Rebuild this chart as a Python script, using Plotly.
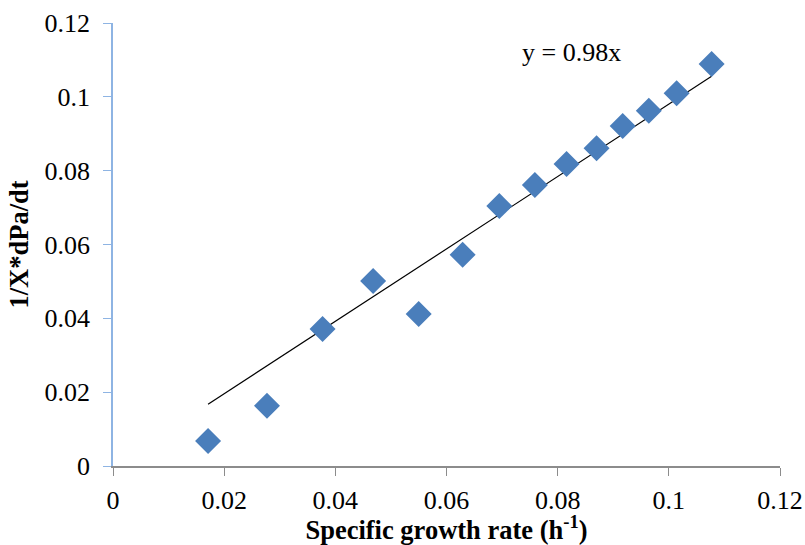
import plotly.graph_objects as go

growth_rate = [0.0171, 0.0277, 0.0377, 0.0468, 0.0550, 0.0629, 0.0695,
               0.0759, 0.0816, 0.0870, 0.0917, 0.0964, 0.1014, 0.1077]
production = [0.0068, 0.0163, 0.0371, 0.0501, 0.0412, 0.0572, 0.0704,
              0.0761, 0.0818, 0.0861, 0.0921, 0.0962, 0.1010, 0.1089]
slope = 0.98
x_ticks = [0, 0.02, 0.04, 0.06, 0.08, 0.1, 0.12]
x_tick_labels = ["0", "0.02", "0.04", "0.06", "0.08", "0.1", "0.12"]
y_ticks = [0, 0.02, 0.04, 0.06, 0.08, 0.1, 0.12]
y_tick_labels = ["0", "0.02", "0.04", "0.06", "0.08", "0.1", "0.12"]

trend_x = [min(growth_rate), max(growth_rate)]
trend_y = [slope * v for v in trend_x]

font = "Liberation Serif"

fig = go.Figure()
fig.add_trace(go.Scatter(x=trend_x, y=trend_y, mode="lines",
                         line=dict(color="black", width=1.2), showlegend=False))
fig.add_trace(go.Scatter(x=growth_rate, y=production, mode="markers",
                         marker=dict(symbol="diamond", size=20, color="#4A7EBB",
                                     line=dict(width=0)), showlegend=False))

fig.add_annotation(x=0.0824, y=0.1119, text="y = 0.98x", showarrow=False,
                   font=dict(family=font, size=26, color="black"))

fig.update_layout(
    width=805, height=545,
    margin=dict(l=113, r=25, t=23, b=79),
    plot_bgcolor="white", paper_bgcolor="white",
    font=dict(family=font, size=24, color="black"),
    xaxis=dict(range=[0, 0.12], tickvals=x_ticks, ticktext=x_tick_labels,
               automargin=False,
               showgrid=False, zeroline=False, showline=True,
               linecolor="#8C8C8C", linewidth=1.5,
               ticks="outside", ticklen=8, tickcolor="#8C8C8C", tickwidth=1.2,
               ticklabelstandoff=2,
               tickfont=dict(family=font, size=26, color="black"),
               title=dict(text="<b>Specific growth rate (h<sup>-1</sup>)</b>",
                          font=dict(family=font, size=26.5, color="black"), standoff=13)),
    yaxis=dict(range=[0, 0.12], tickvals=y_ticks, ticktext=y_tick_labels,
               automargin=False,
               showgrid=False, zeroline=False, showline=True,
               linecolor="#8EB4E3", linewidth=1.5,
               ticks="outside", ticklen=8, tickcolor="#8EB4E3", tickwidth=1.2,
               ticklabelstandoff=8,
               tickfont=dict(family=font, size=26, color="black"),
               title=dict(text="<b>1/X*dPa/dt</b>",
                          font=dict(family=font, size=26.5, color="black"), standoff=8)),
)

fig.write_html("out.html", config={"displayModeBar": False},
               post_script="document.body.style.margin='0';document.body.style.overflow='hidden';")
